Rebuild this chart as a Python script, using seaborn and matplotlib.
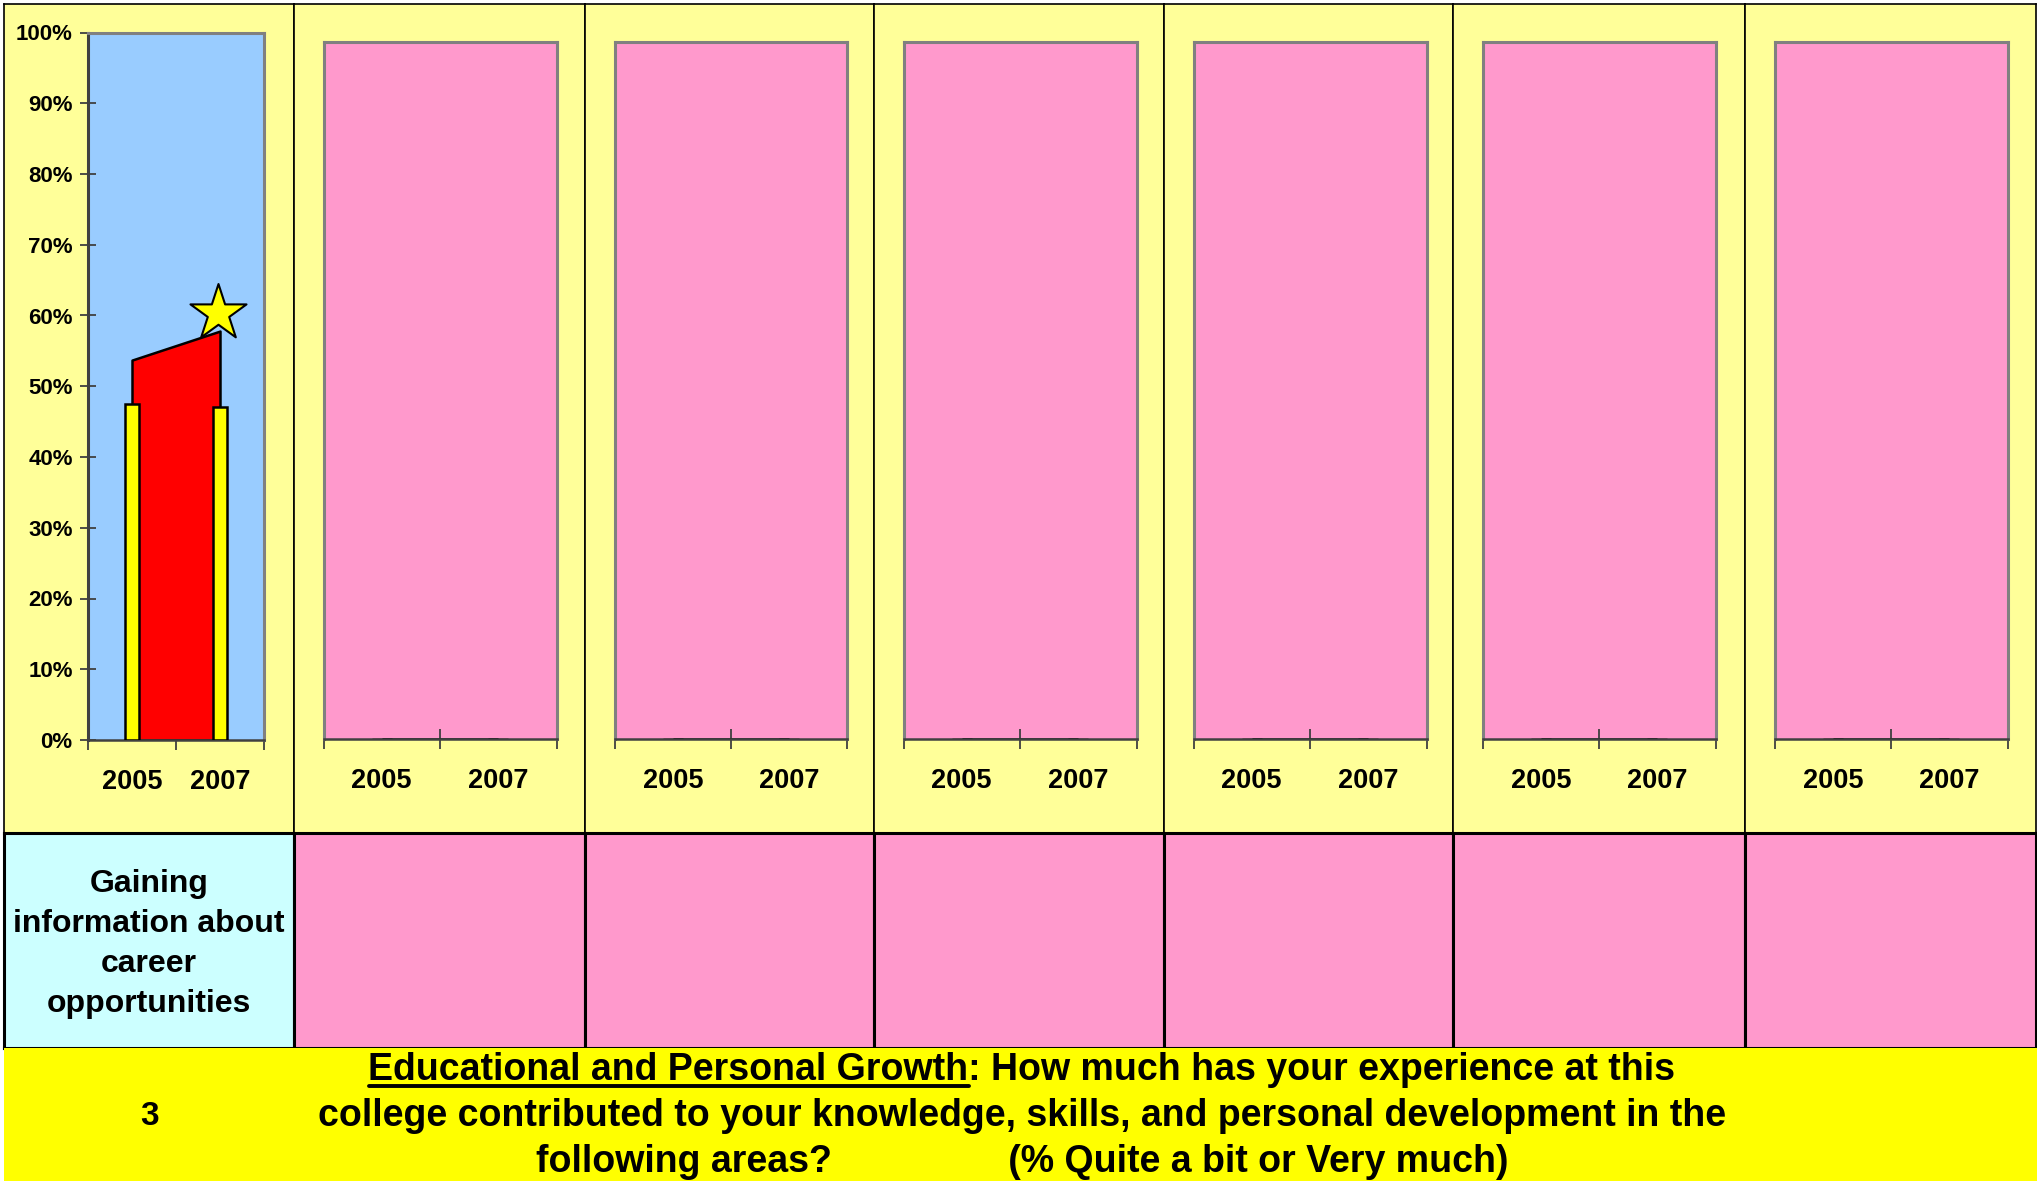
import numpy as np
import matplotlib
matplotlib.use('Agg')
import matplotlib.pyplot as plt
import seaborn as sns
from matplotlib.lines import Line2D

sns.set_style('white')
plt.rcParams['font.family'] = ['Liberation Sans', 'DejaVu Sans']
plt.rcParams['font.weight'] = 'bold'
plt.rcParams['text.color'] = 'black'
plt.rcParams['xtick.color'] = 'black'
plt.rcParams['ytick.color'] = 'black'

# data
years = ['2005', '2007']
college_pct = [0.475, 0.471]       # yellow bars
comparison_pct = [0.537, 0.578]    # red band behind the bars
star_pct = 0.600                   # star marker above 2007
empty_pct = [0.0, 0.0]             # the six unfilled panels
item_label = 'Gaining\ninformation about\ncareer\nopportunities'
item_number = '3'
title_lead = 'Educational and Personal Growth'
title_line1 = title_lead + ': How much has your experience at this'
title_line2 = 'college contributed to your knowledge, skills, and personal development in the'
title_line3 = 'following areas?                 (% Quite a bit or Very much)'

W, H = 2037, 1181
fig = plt.figure(figsize=(W / 100, H / 100), dpi=100)
fig.patch.set_facecolor('white')


def box(x0, y0, x1, y1):
    return [x0 / W, 1 - y1 / H, (x1 - x0) / W, (y1 - y0) / H]


def blank(ax, color, edge, lw):
    ax.set_facecolor(color)
    ax.set_xticks([])
    ax.set_yticks([])
    for s in ax.spines.values():
        s.set_visible(edge is not None)
        if edge is not None:
            s.set_color(edge)
            s.set_linewidth(lw)


edges = [4, 294, 585, 874, 1164, 1453, 1745, 2036]

# panel backgrounds and the label cells underneath
for i in range(7):
    bg = fig.add_axes(box(edges[i], 4, edges[i + 1], 833))
    blank(bg, '#FFFF99', 'black', 1.2)
    cell = fig.add_axes(box(edges[i], 833, edges[i + 1], 1048))
    blank(cell, '#CCFFFF' if i == 0 else '#FF99CC', 'black', 2.2)
    if i == 0:
        cell.text(0.5, 0.485, item_label, ha='center', va='center', fontsize=23,
                  fontweight='bold', linespacing=1.43, transform=cell.transAxes)

# footer band, data coords = figure pixels
foot = fig.add_axes(box(4, 1048, 2037, 1181))
blank(foot, '#FFFF00', None, 0)
foot.set_xlim(4, W)
foot.set_ylim(1181, 1048)


def style_axes(ax, face, show_y):
    ax.set_facecolor(face)
    ax.set_xlim(-0.5, 1.5)
    ax.set_ylim(0, 1)
    for side in ['top', 'right', 'left']:
        ax.spines[side].set_color('#808080')
        ax.spines[side].set_linewidth(2.2)
    ax.spines['bottom'].set_color('#404040')
    ax.spines['bottom'].set_linewidth(1.8)
    ax.set_xticks([-0.5, 0.5, 1.5], labels=['', '', ''])
    ax.set_xticks([0, 1], labels=years, minor=True, fontsize=19.5, fontweight='bold')
    ax.tick_params(axis='x', which='major', direction='inout', length=14, width=1.3,
                   color='#404040', bottom=True)
    ax.tick_params(axis='x', which='minor', length=0, pad=21, bottom=True)
    ax.set_xlabel('')
    ax.set_ylabel('')
    ax.grid(False)
    if show_y:
        ticks = np.linspace(0, 1, 11)
        ax.set_yticks(ticks, labels=[f'{t:.0%}' for t in ticks], fontsize=16, fontweight='bold')
        ax.tick_params(axis='y', direction='inout', length=12, width=1.3, color='#404040',
                       pad=5, left=True)
        ax.spines['left'].set_color('#404040')
    else:
        ax.set_yticks([])


# first panel: the only item with data
ax = fig.add_axes(box(88, 32.5, 264, 740))
ax.fill_between([0, 1], [0, 0], comparison_pct, facecolor='#FF0000', edgecolor='black',
                linewidth=1.8, zorder=2)
sns.barplot(x=years, y=college_pct, color='#FFFF00', saturation=1, width=0.17,
            edgecolor='black', linewidth=1.8, ax=ax, zorder=3)
ax.scatter([0.98], [star_pct + 0.003], marker='*', s=1800, c='#FFFF00', edgecolors='black',
           linewidths=1.5, zorder=4, clip_on=False)
style_axes(ax, '#99CCFF', True)

# remaining panels: empty pink plots
for i in range(1, 7):
    axp = fig.add_axes(box(edges[i] + 29.5, 41.5, edges[i] + 262.5, 739))
    axp.fill_between([0, 1], [0, 0], empty_pct, facecolor='#FF0000', edgecolor='black',
                     linewidth=1.8, zorder=2)
    sns.barplot(x=years, y=empty_pct, color='#FFFF00', saturation=1, width=0.17,
                edgecolor='black', linewidth=1.0, ax=axp, zorder=3)
    style_axes(axp, '#FF99CC', False)

# footer text
fs = 27
foot.text(150, 1116, item_number, ha='center', va='center', fontsize=24, fontweight='bold')
cx = 1022
t1 = foot.text(cx, 1080, title_line1, ha='center', va='baseline', fontsize=fs, fontweight='bold')
foot.text(cx, 1126, title_line2, ha='center', va='baseline', fontsize=fs, fontweight='bold')
foot.text(cx, 1172, title_line3, ha='center', va='baseline', fontsize=fs, fontweight='bold')

# underline the lead phrase of the first line
fig.canvas.draw()
r = fig.canvas.get_renderer()
full = t1.get_window_extent(r)
probe = foot.text(0, 0, title_lead, fontsize=fs, fontweight='bold')
lead_w = probe.get_window_extent(r).width
probe.remove()
x0 = full.x0
ul_y = 1 - 1086 / H
fig.add_artist(Line2D([x0 / W, (x0 + lead_w) / W], [ul_y, ul_y], color='black', linewidth=2.8,
                      transform=fig.transFigure))

fig.savefig('out.png', dpi=100, facecolor='white')
